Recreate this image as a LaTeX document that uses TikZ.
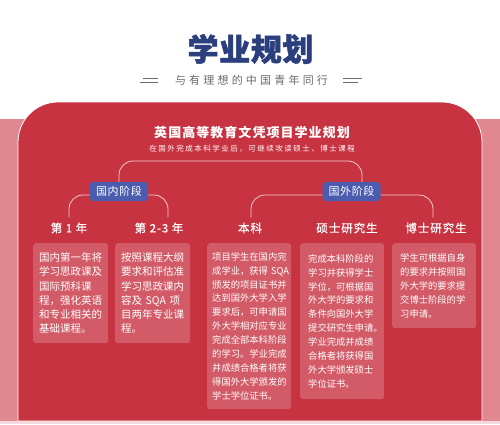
\documentclass[tikz,border=0pt]{standalone}
\usepackage{fontspec}
\usepackage{tikz}
\usetikzlibrary{positioning, calc}
\newfontfamily\cjk{Noto Sans CJK SC}
\definecolor{panelred}{HTML}{C83341}
\definecolor{bandpink}{HTML}{E0878F}
\definecolor{lightpink}{HTML}{F6D9DC}
\definecolor{titlenavy}{HTML}{2B3E7E}
\definecolor{badgeblue}{HTML}{4B5CAE}
\definecolor{mottogray}{HTML}{6A6A6A}

\begin{document}
\begin{tikzpicture}[x=1pt, y=-1pt,
        branch/.style={draw=white, draw opacity=0.75, line width=0.8pt, rounded corners=14pt},
        badge/.style={fill=badgeblue, rounded corners=3pt, minimum width=58pt, minimum height=19pt,
            inner sep=0pt, text=white, font=\cjk\fontsize{11}{13}\selectfont\addfontfeature{LetterSpace=6}},
        stage/.style={text=white, inner sep=2pt, font=\cjk\fontsize{11.5}{13}\selectfont\addfontfeature{LetterSpace=8,FakeBold=0.6}},
        card/.style={fill=white, fill opacity=0.2, text opacity=1, text=white, rounded corners=3pt,
            anchor=north west, align=left, inner ysep=0pt},
        bigtext/.style={font=\cjk\fontsize{10.5}{14.3}\selectfont},
        smalltext/.style={font=\cjk\fontsize{9.3}{13.9}\selectfont}]
        \useasboundingbox (0,0) rectangle (500,424);
        \fill[white] (0,0) rectangle (500,424);
        \fill[bandpink] (0,119) rectangle (500,421);
        \fill[lightpink] (0,421) rectangle (500,424);
        \draw[fill=panelred, draw=white, line width=0.8pt]
            (18,421) {[rounded corners=40pt] -- (18,102) -- (482,102)} -- (482,421) -- cycle;

        \node[text=titlenavy, font=\cjk\bfseries\fontsize{31}{34}\selectfont\addfontfeature{LetterSpace=2,FakeBold=1.5}] (title) at (250.5,49) {学业规划};
        \node[text=mottogray, font=\cjk\fontsize{11}{13}\selectfont\addfontfeature{LetterSpace=29}] (motto) at (251.5,80) {与有理想的中国青年同行};
        \draw[mottogray, line width=0.6pt] ([xshift=-14pt,yshift=1.5pt]motto.west) -- ++(-15,0);
        \draw[mottogray, line width=0.6pt] ([xshift=-14pt,yshift=-2.5pt]motto.west) -- ++(-18,0);
        \draw[mottogray, line width=0.6pt] ([xshift=12pt,yshift=1.5pt]motto.east) -- ++(19,0);
        \draw[mottogray, line width=0.6pt] ([xshift=12pt,yshift=-2.5pt]motto.east) -- ++(15,0);

        \node[text=white, font=\cjk\bfseries\fontsize{13}{15}\selectfont\addfontfeature{LetterSpace=8}] (plan) at (252,132) {英国高等教育文凭项目学业规划};
        \node[text=white, font=\cjk\fontsize{7.5}{9}\selectfont\addfontfeature{LetterSpace=20}] (note) at (252,149) {在国外完成本科学业后，可继续攻读硕士、博士课程};

        \node[stage] (yone) at (69,228) {第 1 年};
        \node[stage] (ytwo) at (159,228) {第 2-3 年};
        \node[stage] (bsc) at (250,228) {本科};
        \node[stage] (msc) at (347,228) {硕士研究生};
        \node[stage] (phd) at (436,228) {博士研究生};

        \coordinate (home) at (119,191.5);
        \coordinate (abroad) at (351.5,191.5);
        \draw[branch] ([yshift=9.5pt]home) -- ++(0,-21) -| ([xshift=10.5pt,yshift=9.5pt]abroad);
        \draw[branch] ([yshift=3pt]yone.north) |- ([yshift=-3.5pt]home) -| ([xshift=9pt,yshift=3pt]ytwo.north);
        \draw[branch] ([xshift=1pt,yshift=3pt]bsc.north) |- ([yshift=-3.5pt]abroad) -| ([xshift=-3pt,yshift=3pt]phd.north);

        \node[badge] (homebadge) at (home) {国内阶段};
        \node[badge] (abroadbadge) at (abroad) {国外阶段};

        \node[card, bigtext, inner xsep=6pt, text width=63pt, minimum width=75pt, minimum height=100pt] (cardone) at (33,243)
            {国内第一年将\\学习思政课及\\国际预科课\\程，强化英语\\和专业相关的\\基础课程。};
        \node[card, bigtext, inner xsep=6pt, text width=63pt, minimum width=75pt, minimum height=100pt] (cardtwo) at (115,243)
            {按照课程大纲\\要求和评估准\\学习思政课内\\容及~SQA~项\\目两年专业课\\程。};
        \node[card, smalltext, inner xsep=5pt, text width=74pt, minimum width=84pt, minimum height=166pt] (cardbsc) at (207,243)
            {项目学生在国内完\\\mbox{成学业，获得 SQA}\\颁发的项目证书并\\达到国外大学入学\\要求后，可申请国\\外大学相对应专业\\完成全部本科阶段\\的学习。学业完成\\并成绩合格者将获\\得国外大学颁发的\\学士学位证书。};
        \node[card, smalltext, inner xsep=8pt, text width=68pt, minimum width=84pt, minimum height=156pt] (cardmsc) at (300,243)
            {完成本科阶段的\\学习并获得学士\\学位，可根据国\\外大学的要求和\\条件向国外大学\\提交研究生申请。\\学业完成并成绩\\合格者将获得国\\外大学颁发硕士\\学位证书。};
        \node[card, smalltext, inner xsep=8pt, text width=68pt, minimum width=84pt, minimum height=85pt] (cardphd) at (392,243)
            {学生可根据自身\\的要求并按照国\\外大学的要求提\\交博士阶段的学\\习申请。};
    \end{tikzpicture}
\end{document}
